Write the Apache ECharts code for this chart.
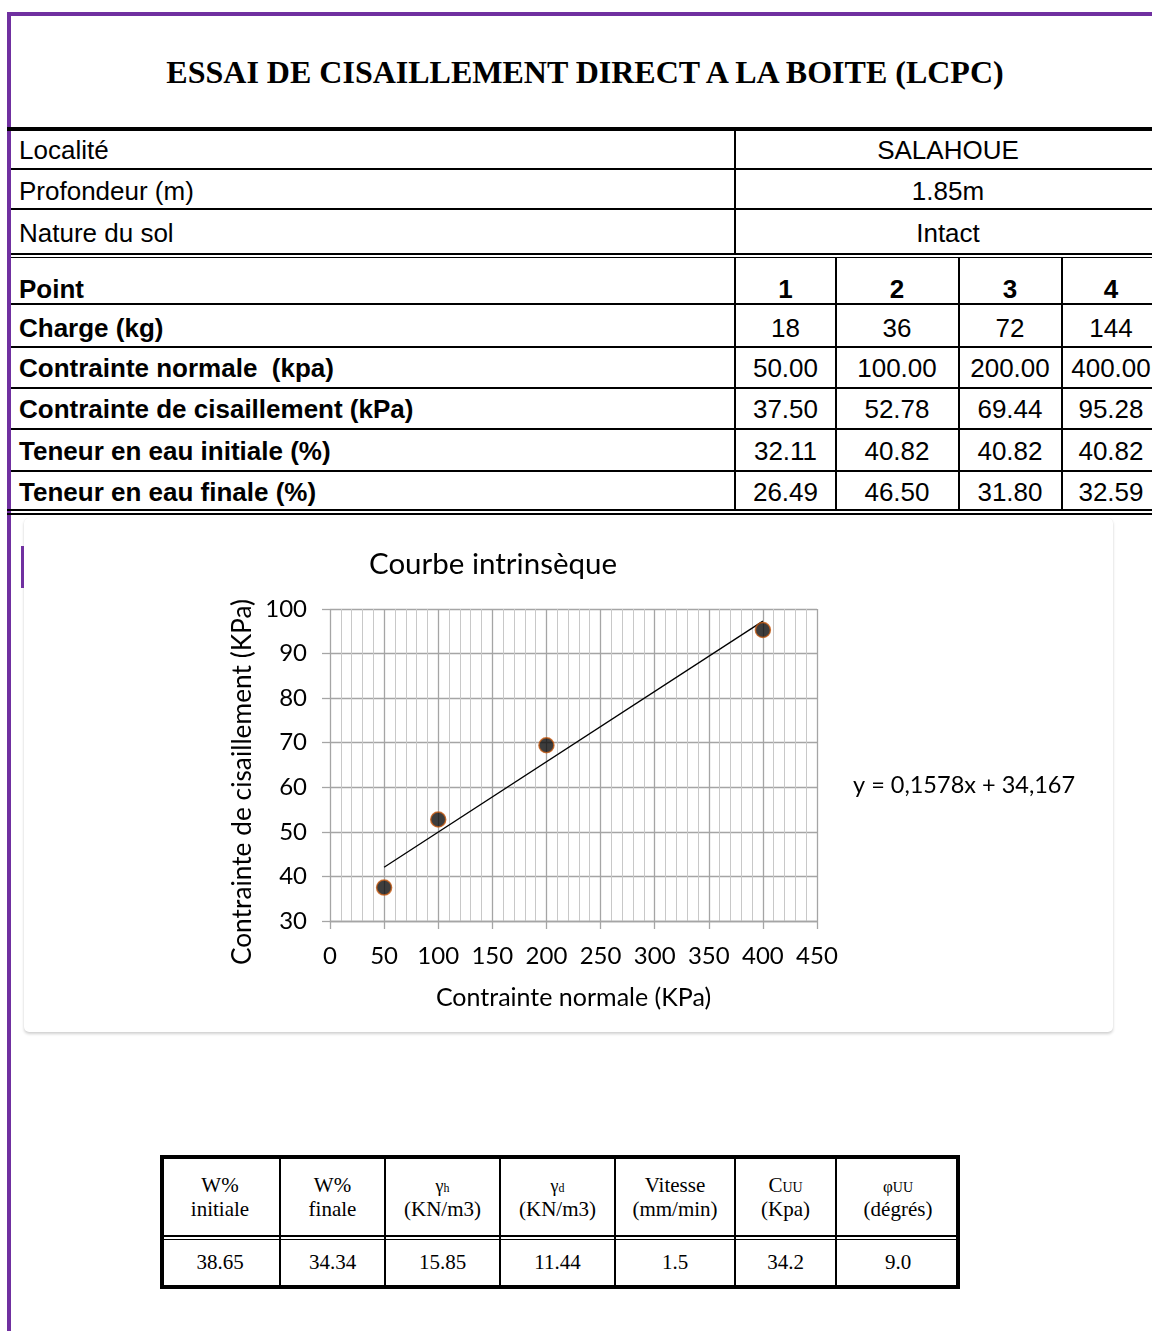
<!DOCTYPE html>
<html><head><meta charset="utf-8">
<script src="https://cdn.jsdelivr.net/npm/echarts@6/dist/echarts.min.js"></script>
<style>
html,body{margin:0;padding:0;background:#fff;}
#page{position:relative;width:1152px;height:1331px;overflow:hidden;background:#fff;}
.ln{position:absolute;background:#000;}
.tx{position:absolute;white-space:pre;color:#000;}
#card{position:absolute;left:24px;top:518px;width:1089px;height:514px;background:#fff;border-radius:5px;box-shadow:0 2px 3px rgba(0,0,0,0.18),0 0 1px rgba(0,0,0,0.08);}
#chart{position:absolute;left:24px;top:518px;width:1089px;height:514px;}
</style></head>
<body><div id="page"><div id="card"></div><div id="chart"></div></div>
<script>
// ---------- DATA ----------
const docTitle = 'ESSAI DE CISAILLEMENT DIRECT A LA BOITE (LCPC)';
const infoLabels = ['Localité', 'Profondeur (m)', 'Nature du sol'];
const infoValues = ['SALAHOUE', '1.85m', 'Intact'];
const rowLabels = ['Point', 'Charge (kg)', 'Contrainte normale  (kpa)', 'Contrainte de cisaillement (kPa)', 'Teneur en eau initiale (%)', 'Teneur en eau finale (%)'];
const pointNumbers = ['1', '2', '3', '4'];
const charges = ['18', '36', '72', '144'];
const normalStress = [50, 100, 200, 400];
const shearStress = [37.50, 52.78, 69.44, 95.28];
const waterInitial = ['32.11', '40.82', '40.82', '40.82'];
const waterFinal = ['26.49', '46.50', '31.80', '32.59'];

const chartTitle = 'Courbe intrinsèque';
const xAxisName = 'Contrainte normale (KPa)';
const yAxisName = 'Contrainte de cisaillement (KPa)';
const xRange = [0, 450, 50];
const yRange = [30, 100, 10];
const trendSlope = 0.1578;
const trendIntercept = 34.167;
const trendLabel = 'y = 0,1578x + 34,167';

const summarySymbols = ['W%', 'W%', 'γ', 'γ', 'Vitesse', 'C', 'φ'];
const summarySubs = ['', '', 'h', 'd', '', 'UU', 'UU'];
const summaryUnits = ['initiale', 'finale', '(KN/m3)', '(KN/m3)', '(mm/min)', '(Kpa)', '(dégrés)'];
const summaryValues = ['38.65', '34.34', '15.85', '11.44', '1.5', '34.2', '9.0'];

// ---------- LAYOUT HELPERS ----------
const page = document.getElementById('page');
function line(x, y, w, h, color) {
  const d = document.createElement('div');
  d.className = 'ln';
  d.style.left = x + 'px'; d.style.top = y + 'px';
  d.style.width = w + 'px'; d.style.height = h + 'px';
  if (color) d.style.background = color;
  page.appendChild(d);
  return d;
}
function text(str, x, cy, o) {
  o = o || {};
  const size = o.size || 26, lh = o.lh || Math.round(size * 1.2);
  const w = o.w || 600;
  const d = document.createElement('div');
  d.className = 'tx';
  d.style.fontFamily = o.font || '"Liberation Sans", Arial, sans-serif';
  d.style.fontSize = size + 'px';
  d.style.lineHeight = lh + 'px';
  d.style.fontWeight = o.bold ? 'bold' : 'normal';
  d.style.top = (cy - lh / 2) + 'px';
  if (o.align === 'center') {
    d.style.left = (x - w / 2) + 'px'; d.style.width = w + 'px'; d.style.textAlign = 'center';
  } else {
    d.style.left = x + 'px';
  }
  if (o.html) d.innerHTML = str; else d.textContent = str;
  page.appendChild(d);
  return d;
}

// frame
const PURPLE = '#7030a0';
line(7, 12, 1145, 4, PURPLE);
line(7, 12, 4, 1319, PURPLE);
line(21, 546, 2.5, 42, PURPLE);

const serif = '"Liberation Serif", "Times New Roman", serif';
// title
text(docTitle, 585, 72, {font: serif, size: 32, bold: true, align: 'center', w: 1100});

// upper table
line(7, 127, 1145, 4);
const infoCenters = [150, 191, 233];
[168, 208].forEach(y => line(11, y, 1141, 2));
line(11, 253, 1141, 1.5);
line(11, 256.5, 1141, 1.5);
line(734, 131, 2, 122);
infoLabels.forEach((s, i) => text(s, 19, infoCenters[i]));
infoValues.forEach((s, i) => text(s, 948, infoCenters[i], {align: 'center'}));

// lower table
const rowCenters = [289.5, 328, 368.5, 409, 451, 492];
[303, 345.5, 387, 428, 470].forEach(y => line(11, y, 1141, 2));
line(7, 509, 1145, 2);
line(7, 513, 1145, 2);
[734, 835, 958, 1061].forEach(x => line(x, 258, 2, 251));
const colCenters = [785.5, 897, 1010, 1111];
const rowsData = [pointNumbers, charges, normalStress.map(v => v.toFixed(2)), shearStress.map(v => v.toFixed(2)), waterInitial, waterFinal];
rowLabels.forEach((s, i) => {
  text(s, 19, rowCenters[i], {bold: true});
  rowsData[i].forEach((v, j) => text(v, colCenters[j], rowCenters[i], {align: 'center', bold: i === 0, w: 200}));
});

// summary table
const sumCols = [160, 280, 385, 500, 615, 735, 836, 960];
const tb = document.createElement('div');
tb.style.cssText = 'position:absolute;left:160px;top:1155px;width:800px;height:134px;border:4px solid #000;box-sizing:border-box;';
page.appendChild(tb);
sumCols.slice(1, -1).forEach(x => line(x - 1, 1158, 2, 128));
line(163, 1235, 794, 1.5);
line(163, 1238.5, 794, 1.5);
summarySymbols.forEach((s, i) => {
  const cx = (sumCols[i] + sumCols[i + 1]) / 2;
  let head;
  if (s === 'γ') head = '<span style="font-size:18px">' + s + '</span><span style="font-size:12px">' + summarySubs[i] + '</span>';
  else if (summarySubs[i]) head = '<span style="font-size:' + (s === 'C' ? 21 : 17) + 'px">' + s + '</span><span style="font-size:14px">' + summarySubs[i] + '</span>';
  else head = s;
  text(head, cx, 1184.5, {font: serif, size: 21, lh: 24, align: 'center', html: true, w: 120});
  text(summaryUnits[i], cx, 1208.5, {font: serif, size: 21, lh: 24, align: 'center', w: 120});
  text(summaryValues[i], cx, 1262, {font: serif, size: 21, lh: 24, align: 'center', w: 120});
});

// ---------- CHART ----------
const FONT = 'Lato';
const chart = echarts.init(document.getElementById('chart'), null, {renderer: 'canvas'});
const pts = normalStress.map((x, i) => [x, shearStress[i]]);
const x0 = normalStress[0], x1 = normalStress[normalStress.length - 1];
const trend = [[x0, trendSlope * x0 + trendIntercept], [x1, trendSlope * x1 + trendIntercept]];
chart.setOption({
  animation: false,
  backgroundColor: 'transparent',
  grid: {left: 306, top: 91, width: 487, height: 312, containLabel: false},
  xAxis: {
    type: 'value', min: xRange[0], max: xRange[1], interval: xRange[2],
    name: xAxisName, nameLocation: 'middle', nameGap: 64,
    nameTextStyle: {fontFamily: FONT, fontSize: 25, color: '#000'},
    axisLine: {show: true, lineStyle: {color: '#a5a5a5', width: 1.3}},
    axisTick: {show: true, inside: false, length: 8, lineStyle: {color: '#a5a5a5', width: 1.3}},
    axisLabel: {margin: 23, fontFamily: FONT, fontSize: 24, color: '#000'},
    splitLine: {show: true, lineStyle: {color: '#a5a5a5', width: 1.3}},
    minorTick: {show: false, splitNumber: 5},
    minorSplitLine: {show: true, lineStyle: {color: '#c8c8c8', width: 1}}
  },
  yAxis: {
    type: 'value', min: yRange[0], max: yRange[1], interval: yRange[2],
    axisLine: {show: false},
    axisTick: {show: true, inside: false, length: 8, lineStyle: {color: '#a5a5a5', width: 1.3}},
    axisLabel: {margin: 23, fontFamily: FONT, fontSize: 24, color: '#000'},
    splitLine: {show: true, lineStyle: {color: '#a5a5a5', width: 1.3}}
  },
  graphic: [
    {type: 'text', x: 469, y: 46,
      style: {text: chartTitle, fontFamily: FONT, fontSize: 29.5, fill: '#000', textAlign: 'center', textVerticalAlign: 'middle'}},
    {type: 'text', x: 219, y: 264, rotation: Math.PI / 2,
      style: {text: yAxisName, fontFamily: FONT, fontSize: 26.3, fill: '#000', textAlign: 'center', textVerticalAlign: 'middle'}},
    {type: 'text', x: 829, y: 267,
      style: {text: trendLabel, fontFamily: FONT, fontSize: 23.5, fill: '#000', textAlign: 'left', textVerticalAlign: 'middle'}}
  ],
  series: [
    {type: 'line', data: trend, symbol: 'none', lineStyle: {color: '#000', width: 1.3}, z: 3},
    {type: 'scatter', data: pts, symbolSize: 15, z: 4,
      itemStyle: {color: '#0d0d0d', borderColor: '#c55a11', borderWidth: 1.5}}
  ]
});
</script></body></html>
